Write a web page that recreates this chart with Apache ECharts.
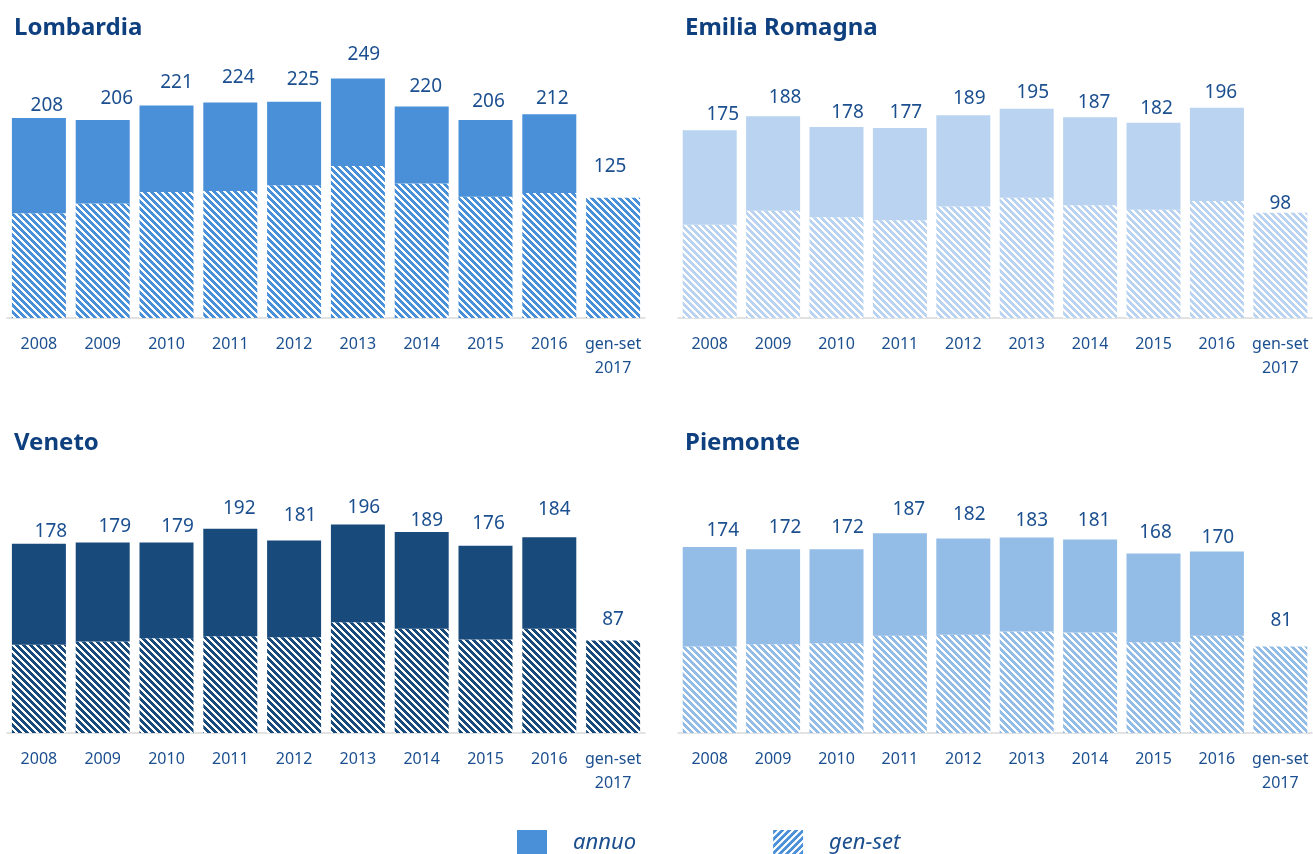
<!DOCTYPE html>
<html>
<head>
<meta charset="utf-8">
<script src="https://cdn.jsdelivr.net/npm/echarts@6/dist/echarts.min.js"></script>
<style>
  html, body { margin: 0; padding: 0; background: #fff; }
  #chart { width: 1313px; height: 854px; }
</style>
</head>
<body>
<div id="chart"></div>
<script>
// categorie
const years = ['2008', '2009', '2010', '2011', '2012', '2013', '2014', '2015', '2016', 'gen-set\n2017'];

// totale annuo (null per il 2017, solo gen-set)
const lombardiaAnnuo = [208, 206, 221, 224, 225, 249, 220, 206, 212, null];
const lombardiaGenSet = [109, 119, 131, 132, 138, 158, 140, 126, 130, 125];

const emiliaAnnuo = [175, 188, 178, 177, 189, 195, 187, 182, 196, null];
const emiliaGenSet = [87, 100, 94, 91, 104, 112, 105, 101, 109, 98];

const venetoAnnuo = [178, 179, 179, 192, 181, 196, 189, 176, 184, null];
const venetoGenSet = [83, 86, 89, 91, 90, 104, 98, 88, 98, 87];

const piemonteAnnuo = [174, 172, 172, 187, 182, 183, 181, 168, 170, null];
const piemonteGenSet = [81, 83, 84, 91, 92, 95, 94, 85, 91, 81];

// spostamento etichette (posizionate a mano nell'originale)
const lombardiaLabelOff = [[8, 2], [14, -7], [10, -8], [8, -11], [9, -8], [6, -9], [4, -5], [3, -4], [3, -1], [-3, -17]];
const emiliaLabelOff = [[13, -1], [12, -4], [11, 0], [6, -1], [6, -2], [6, -2], [4, 0], [3, 0], [4, -1], [0, 5]];
const venetoLabelOff = [[12, 2], [12, -1], [11, -1], [9, -6], [6, -10], [6, -2], [5, 3], [3, -8], [5, -13], [0, -6]];
const piemonteLabelOff = [[13, -2], [12, -7], [11, -7], [9, -9], [6, -9], [5, -2], [4, -5], [2, -6], [1, 1], [1, -11]];

const TEXT = '#1B4F8F';
const TITLE = '#0E3F7E';
const FONT = 'Noto Sans';

// tratteggio diagonale (dir 1 = "\", -1 = "/")
function hatch(color, dir = 1) {
  const size = 7;
  const c = document.createElement('canvas');
  c.width = size; c.height = size;
  const g = c.getContext('2d');
  g.fillStyle = '#fff';
  g.fillRect(0, 0, size, size);
  g.fillStyle = color;
  for (let y = 0; y < size; y++) {
    for (let x = 0; x < size; x++) {
      if (((x - dir * y) % size + size) % size < 4) g.fillRect(x, y, 1, 1);
    }
  }
  return { image: c, repeat: 'repeat' };
}

const panels = [
  { title: 'Lombardia', annuo: lombardiaAnnuo, genset: lombardiaGenSet, off: lombardiaLabelOff, color: '#4A90D9', max: 260, left: 7, width: 638, top: 68 },
  { title: 'Emilia Romagna', annuo: emiliaAnnuo, genset: emiliaGenSet, off: emiliaLabelOff, color: '#B9D3F0', max: 233, left: 678, width: 634, top: 68 },
  { title: 'Veneto', annuo: venetoAnnuo, genset: venetoGenSet, off: venetoLabelOff, color: '#184A7B', max: 235, left: 7, width: 638, top: 483 },
  { title: 'Piemonte', annuo: piemonteAnnuo, genset: piemonteGenSet, off: piemonteLabelOff, color: '#93BDE7', max: 234, left: 678, width: 634, top: 483 }
];

const valueLabel = { show: true, position: 'top', color: TEXT, fontFamily: FONT, fontSize: 19, distance: 5 };

const option = {
  animation: false,
  title: panels.map(p => ({
    text: p.title,
    left: p.left + 2,
    top: p.top - 57,
    textStyle: { color: TITLE, fontFamily: FONT, fontWeight: 'bold', fontSize: 24 }
  })),
  legend: {
    left: 512,
    top: 825,
    itemWidth: 30,
    itemHeight: 26,
    itemGap: 137,
    icon: 'rect',
    data: [
      { name: 'annuo' },
      { name: 'gen-set', itemStyle: { color: hatch('#4A90D9', -1) } }
    ],
    textStyle: { color: TEXT, fontFamily: FONT, fontStyle: 'italic', fontSize: 22, padding: [0, 0, 0, 21] }
  },
  grid: panels.map(p => ({ left: p.left, width: p.width, top: p.top, height: 250 })),
  xAxis: panels.map((p, i) => ({
    type: 'category',
    gridIndex: i,
    data: years,
    axisLine: { lineStyle: { color: '#D9D9D9', width: 1.5 } },
    axisTick: { length: 6, lineStyle: { color: '#D9D9D9', width: 1.5 } },
    axisLabel: { color: TEXT, fontFamily: FONT, fontSize: 16, margin: 14, lineHeight: 24, interval: 0 }
  })),
  yAxis: panels.map((p, i) => ({
    type: 'value', gridIndex: i, min: 0, max: p.max, show: false
  })),
  series: panels.flatMap((p, i) => [
    {
      name: 'gen-set',
      type: 'bar',
      stack: 'r' + i,
      xAxisIndex: i,
      yAxisIndex: i,
      barWidth: 54,
      itemStyle: { color: hatch(p.color) },
      data: p.genset.map((v, k) => p.annuo[k] == null
        ? { value: v, label: { ...valueLabel, offset: p.off[k] } }
        : v)
    },
    {
      name: 'annuo',
      type: 'bar',
      stack: 'r' + i,
      xAxisIndex: i,
      yAxisIndex: i,
      barWidth: 54,
      itemStyle: { color: p.color },
      data: p.annuo.map((v, k) => v == null ? '-' : {
        value: v - p.genset[k],
        label: { ...valueLabel, offset: p.off[k], formatter: String(v) }
      })
    }
  ])
};

echarts.init(document.getElementById('chart')).setOption(option);
</script>
</body>
</html>
